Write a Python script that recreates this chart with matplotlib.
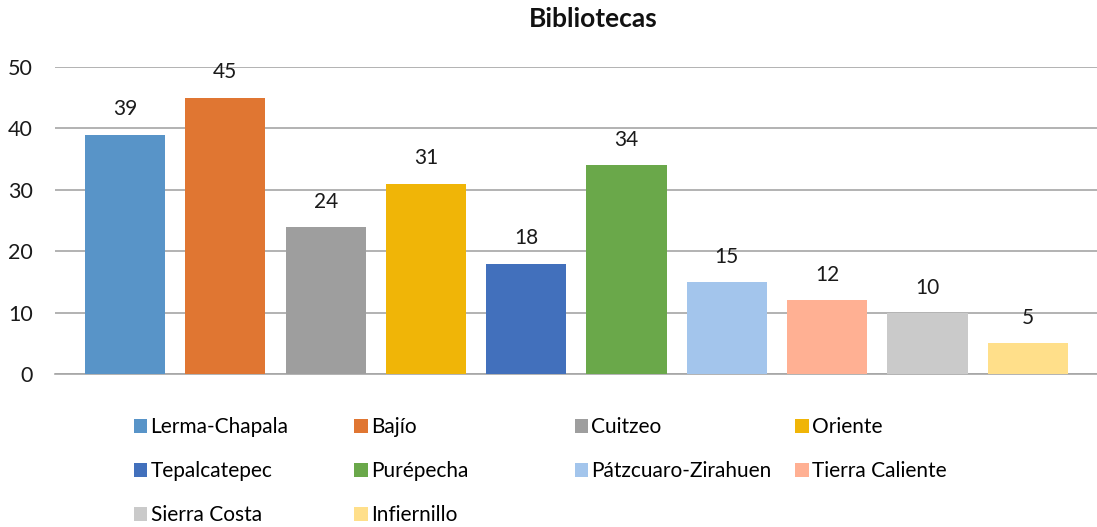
import matplotlib
matplotlib.use("Agg")
import matplotlib.pyplot as plt
import numpy as np

regions = ["Lerma-Chapala", "Bajío", "Cuitzeo", "Oriente", "Tepalcatepec",
           "Purépecha", "Pátzcuaro-Zirahuen", "Tierra Caliente", "Sierra Costa", "Infiernillo"]
values = [39, 45, 24, 31, 18, 34, 15, 12, 10, 5]
colors = ["#5894C8", "#E07632", "#9E9E9E", "#F0B507", "#4270BC",
          "#6AA84A", "#A3C5EC", "#FFB093", "#CACACA", "#FFDF8A"]

plt.rcParams["font.family"] = ["Lato", "DejaVu Sans"]

fig = plt.figure(figsize=(10.97, 5.27), dpi=100)
ax = fig.add_axes([0.050, 0.290, 0.950, 0.583])

x = np.arange(len(values))
bars = ax.bar(x, values, width=0.8, color=colors, zorder=3)
for xi, v in zip(x, values):
    ax.text(xi, v + 4.1, str(v), ha="center", va="center", fontsize=15, color="#1a1a1a")

ax.set_ylim(0, 50)
ax.set_xlim(-0.70, 9.69)
ax.set_yticks(range(0, 51, 10))
ax.set_xticks([])
ax.yaxis.grid(True, color="#a6a6a6", linewidth=1.2, zorder=0)
for s in ["top", "right", "left"]:
    ax.spines[s].set_visible(False)
ax.spines["bottom"].set_color("#a6a6a6")
ax.spines["bottom"].set_linewidth(1.2)
ax.tick_params(axis="y", length=0, labelsize=15.5, pad=16, colors="#1a1a1a")

fig.text(0.541, 0.963, "Bibliotecas", ha="center", va="center",
         fontsize=19, fontweight="bold", color="#111111")

# Excel-style legend: 4 equal-width columns, filled row by row
ncol = 4
col_x = [0.122, 0.323, 0.524, 0.725]
for c in range(ncol):
    idx = list(range(c, len(regions), ncol))
    leg = fig.legend([bars[i] for i in idx], [regions[i] for i in idx],
                     loc="upper left", bbox_to_anchor=(col_x[c], 0.208),
                     frameon=False, fontsize=15, handlelength=0.65,
                     handleheight=0.65, handletextpad=0.15,
                     labelspacing=1.15, borderaxespad=0, borderpad=0)

fig.savefig("out.png", dpi=100)
